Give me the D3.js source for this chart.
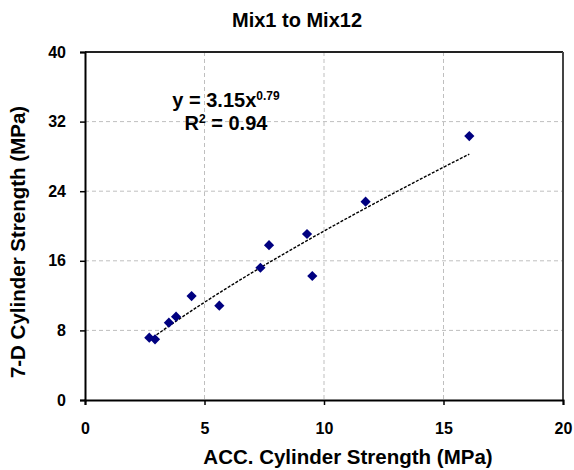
<!DOCTYPE html>
<meta charset="utf-8">
<script src="https://d3js.org/d3.v7.min.js"></script>
<style>
  body { margin: 0; background: #fff; }
  text { font-family: "Liberation Sans", Arial, sans-serif; font-weight: bold; fill: #000; }
</style>
<div id="chart"></div>
<script>

// data (ACC strength vs 7-day strength, MPa)
var accStrength = [2.69, 2.93, 3.51, 3.81, 4.46, 5.62, 7.34, 7.70, 9.29, 9.51, 11.74, 16.08];
var sevenDayStrength = [7.16, 6.97, 8.89, 9.58, 11.95, 10.84, 15.2, 17.8, 19.08, 14.25, 22.8, 30.34];
var xTicks = [0, 5, 10, 15, 20];
var yTicks = [0, 8, 16, 24, 32, 40];
// power trendline y = a * x^b as printed on the chart
var trendA = 3.15, trendB = 0.79, trendR2 = 0.94;

var W = 574, H = 470;
var margin = {top: 52, right: 11, bottom: 70, left: 85},
    width = W - margin.left - margin.right,
    height = H - margin.top - margin.bottom;

var root = d3.select("#chart").append("svg")
    .attr("width", W)
    .attr("height", H);

var svg = root.append("g")
    .attr("transform", "translate(" + margin.left + "," + margin.top + ")");

var x = d3.scaleLinear().domain([0, 20]).range([0, width]);
var y = d3.scaleLinear().domain([0, 40]).range([height, 0]);

// gridlines
svg.selectAll(".hgrid")
  .data(yTicks.filter(function(d){ return d > 0 && d < 40; }))
  .enter().append("line")
    .attr("x1", 0).attr("x2", width)
    .attr("y1", function(d){ return y(d); })
    .attr("y2", function(d){ return y(d); })
    .style("stroke", "#bfbfbf")
    .style("stroke-dasharray", "4,3");
svg.selectAll(".vgrid")
  .data(xTicks.filter(function(d){ return d > 0 && d < 20; }))
  .enter().append("line")
    .attr("y1", 0).attr("y2", height)
    .attr("x1", function(d){ return x(d); })
    .attr("x2", function(d){ return x(d); })
    .style("stroke", "#bfbfbf")
    .style("stroke-dasharray", "4,3");

// plot border (top and right)
svg.append("line").attr("x1", 0).attr("x2", width).attr("y1", 0).attr("y2", 0)
  .style("stroke", "#222").style("stroke-width", 2);
svg.append("line").attr("x1", width).attr("x2", width).attr("y1", 0).attr("y2", height)
  .style("stroke", "#444").style("stroke-width", 2);

// axes
var xAxis = svg.append("g")
  .attr("transform", "translate(0," + height + ")")
  .call(d3.axisBottom(x).tickValues(xTicks).tickSize(5).tickPadding(18));
var yAxis = svg.append("g")
  .call(d3.axisLeft(y).tickValues(yTicks).tickSize(5).tickPadding(14));
[xAxis, yAxis].forEach(function(a){
  a.select(".domain").style("stroke", "#000").style("stroke-width", 2);
  a.selectAll(".tick line").style("stroke", "#000").style("stroke-width", 1.5);
  a.selectAll("text").style("font-size", "16px")
    .style("font-family", "'Liberation Sans', Arial, sans-serif")
    .style("font-weight", "bold");
});

// trendline
var xMin = d3.min(accStrength), xMax = d3.max(accStrength);
var trend = d3.range(0, 41).map(function(i){
  var xv = xMin + (xMax - xMin) * i / 40;
  return [xv, trendA * Math.pow(xv, trendB)];
});
svg.append("path")
  .datum(trend)
  .attr("d", d3.line().x(function(d){ return x(d[0]); }).y(function(d){ return y(d[1]); }))
  .style("fill", "none")
  .style("stroke", "#000")
  .style("stroke-width", 1.4)
  .style("stroke-dasharray", "3,1.5");

// points
svg.selectAll(".pt")
  .data(accStrength)
  .enter().append("path")
    .attr("d", d3.symbol().type(d3.symbolSquare).size(52))
    .attr("transform", function(d, i){
      return "translate(" + x(d) + "," + y(sevenDayStrength[i]) + ") rotate(45)";
    })
    .style("fill", "#000080");

// equation label
var eq = root.append("text")
  .attr("x", 226).attr("y", 107)
  .attr("text-anchor", "middle")
  .style("font-size", "20px");
eq.append("tspan").text("y = " + trendA.toFixed(2) + "x");
eq.append("tspan").attr("dy", -7).style("font-size", "12px").text(trendB.toFixed(2));
var r2 = root.append("text")
  .attr("x", 226).attr("y", 130)
  .attr("text-anchor", "middle")
  .style("font-size", "20px");
r2.append("tspan").text("R");
r2.append("tspan").attr("dy", -7).style("font-size", "12px").text("2");
r2.append("tspan").attr("dy", 7).text(" = " + trendR2.toFixed(2));

// titles
root.append("text")
  .attr("x", 297).attr("y", 27)
  .attr("text-anchor", "middle")
  .style("font-size", "20px")
  .text("Mix1 to Mix12");
root.append("text")
  .attr("x", 348).attr("y", 464)
  .attr("text-anchor", "middle")
  .style("font-size", "20.5px")
  .text("ACC. Cylinder Strength (MPa)");
root.append("text")
  .attr("transform", "translate(25,242) rotate(-90)")
  .attr("text-anchor", "middle")
  .style("font-size", "20.5px")
  .text("7-D Cylinder Strength (MPa)");

</script>
